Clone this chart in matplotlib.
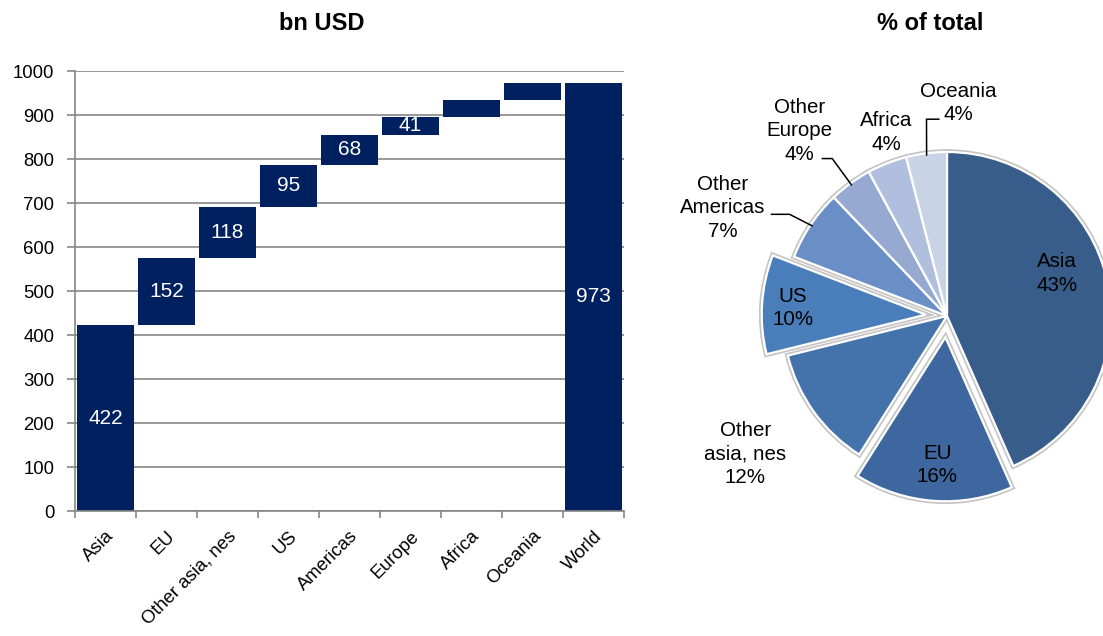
import numpy as np
import matplotlib
matplotlib.use("Agg")
from matplotlib import pyplot as plt

plt.rcParams['font.family'] = ['Liberation Sans', 'DejaVu Sans']

# waterfall data (bn USD)
categories = ["Asia", "EU", "Other asia, nes", "US", "Americas", "Europe", "Africa", "Oceania"]
values = [422, 152, 118, 95, 68, 41, 38, 39]
total_label = "World"

# pie data (same shares, different names)
pie_labels = ["Asia", "EU", "Other\nasia, nes", "US", "Other\nAmericas", "Other\nEurope", "Africa", "Oceania"]
pie_colors = ["#385d8a", "#3e67a0", "#4472aa", "#4a7ebb", "#6a8fc6", "#95a9d1", "#b0bfdd", "#c9d3e6"]
pie_explode = [0, 0.13, 0, 0.13, 0, 0, 0, 0]

yticks = np.arange(0, 1001, 100)

# label layout for the pie (pie units, radius = 1)
label_pos = [(0.67, 0.26), (-0.06, -0.91), (-1.23, -0.84), (-0.94, 0.05),
             (-1.37, 0.66), (-0.90, 1.13), (-0.37, 1.12), (0.07, 1.30)]
leaders = {4: [(-0.96, 0.62), (-1.07, 0.62)],
           5: [(-0.70, 0.96), (-0.76, 0.96)],
           7: [(-0.125, 1.20), (-0.05, 1.20)]}

navy = "#002060"
grey = "#868686"

W, H = 1103, 636
fig = plt.figure(figsize=(W / 100, H / 100), dpi=100)

# ---------------- waterfall ----------------
ax = fig.add_axes([75 / W, (H - 511) / H, 549 / W, 440 / H])
vals = np.array(values)
bottoms = np.concatenate([[0], np.cumsum(vals)[:-1]])
heights = np.concatenate([vals, [vals.sum()]])
bottoms = np.concatenate([bottoms, [0]])
labels = categories + [total_label]
x = np.arange(len(labels))

ax.set_axisbelow(True)
ax.grid(axis='y', color=grey, linewidth=1.2)
ax.bar(x, heights, bottom=bottoms, width=0.92, color=navy)
for xi, b, h in zip(x, bottoms, heights):
    if h >= 40:
        ax.text(xi, b + h / 2, str(h), ha='center', va='center', color='white', fontsize=15)

ax.set_xlim(-0.5, len(labels) - 0.5)
ax.set_ylim(0, 1000)
ax.set_yticks(yticks)
ax.set_xticks(x)
ax.set_xticklabels(labels, rotation=45, ha='right', rotation_mode='anchor', fontsize=13.3)
ax.set_xticks(np.arange(-0.5, len(labels)), minor=True)
ax.tick_params(axis='x', which='major', length=0, pad=12)
ax.tick_params(axis='x', which='minor', length=5, color=grey, width=1.2)
ax.tick_params(axis='y', length=6, color=grey, width=1.2, labelsize=13.3, pad=9)
for s in ['top', 'right']:
    ax.spines[s].set_visible(False)
for s in ['left', 'bottom']:
    ax.spines[s].set_color(grey)
    ax.spines[s].set_linewidth(1.2)

fig.text(322 / W, 1 - 23 / H, "bn USD", ha='center', va='center', fontsize=17, fontweight='bold')

# ---------------- pie ----------------
r_px = 164
cx, cy = 947, 316
half = 1.5 * r_px
pax = fig.add_axes([(cx - half) / W, (H - cy - half) / H, 2 * half / W, 2 * half / H])

# shadow pass, then the real wedges on top
pax.pie(values, colors=pie_colors, explode=pie_explode, startangle=90, counterclock=False,
        wedgeprops=dict(edgecolor='#c4c4c4', linewidth=4))
wedges, _ = pax.pie(values, colors=pie_colors, explode=pie_explode, startangle=90, counterclock=False,
                    wedgeprops=dict(edgecolor='white', linewidth=1.6))
pax.set_xlim(-1.5, 1.5)
pax.set_ylim(-1.5, 1.5)
pax.set_aspect('equal')

shares = vals / vals.sum() * 100
for i, (lab, sh) in enumerate(zip(pie_labels, shares)):
    tx, ty = label_pos[i]
    pax.text(tx, ty, "%s\n%.0f%%" % (lab, sh), ha='center', va='center', fontsize=14.8,
             linespacing=1.3)
    if i in leaders:
        w = wedges[i]
        mid = np.deg2rad((w.theta1 + w.theta2) / 2)
        pts = [(np.cos(mid) * 0.99, np.sin(mid) * 0.99)] + leaders[i]
        px, py = zip(*pts)
        pax.plot(px, py, color='black', linewidth=1.1)

fig.text(930 / W, 1 - 23 / H, "% of total", ha='center', va='center', fontsize=17, fontweight='bold')

fig.savefig("out.png", dpi=100)
